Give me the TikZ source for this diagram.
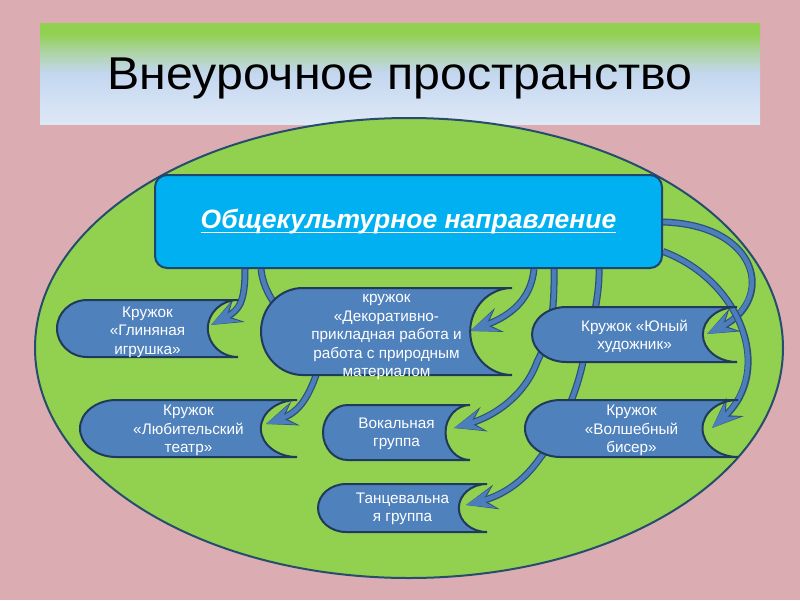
\documentclass[tikz,border=0pt]{standalone}
\usepackage{fontspec}
\setmainfont{Liberation Sans}
\newfontfamily\titlefont[FakeStretch=1.05]{Liberation Sans}
\usetikzlibrary{arrows.meta}
\pgfdeclarelayer{bg}
\pgfdeclarelayer{arrowlayer}
\pgfdeclarelayer{shapelayer}
\pgfsetlayers{bg,arrowlayer,shapelayer,main}

\definecolor{pinkbg}{RGB}{219,172,178}
\definecolor{elgreen}{RGB}{146,208,80}
\definecolor{eledge}{RGB}{38,78,108}
\definecolor{boxblue}{RGB}{79,129,189}
\definecolor{boxedge}{RGB}{32,58,90}
\definecolor{cyanbox}{RGB}{0,176,240}
\definecolor{hubedge}{RGB}{30,70,110}
\definecolor{arrowblue}{RGB}{76,126,188}
\definecolor{arrowedge}{RGB}{45,80,120}
\definecolor{bandgreen}{RGB}{146,208,80}
\definecolor{bandmix}{RGB}{175,212,170}
\definecolor{bandblue}{RGB}{196,215,240}
\definecolor{bandlight}{RGB}{222,232,246}

\pgfdeclareverticalshading{bandshade}{100bp}{color(0bp)=(bandlight); color(25bp)=(bandlight); color(50bp)=(bandblue); color(60bp)=(bandmix); color(70bp)=(bandgreen); color(100bp)=(bandgreen)}

\newcommand{\sdshape}[4]{%
  \pgfmathsetmacro\sdw{(#3-#1)/6}%
  \pgfmathsetmacro\sdh{(#4-#2)/2}%
  \path[sdstyle] (#1+\sdw,#2) -- (#3,#2)
    arc[start angle=90,end angle=270,x radius=\sdw pt,y radius=\sdh pt]
    -- (#1+\sdw,#4)
    arc[start angle=270,end angle=90,x radius=\sdw pt,y radius=\sdh pt]
    -- cycle;}
\newcommand{\thickul}[1]{\setbox0=\hbox{#1}\rlap{\rule[-5pt]{\wd0}{1.8pt}}\box0}

\tikzset{
  lbl/.style={text=white, font=\fontsize{15.3}{18.5}\selectfont, align=center, inner sep=0pt},
  sdstyle/.style={fill=boxblue, draw=boxedge, line width=2pt},
  conn/.style={draw=arrowblue, line width=4.5pt, -{Stealth[length=28pt,width=21pt,inset=11pt]},
    preaction={draw=arrowedge, line width=7pt, -{Stealth[length=31pt,width=25pt,inset=12pt]}}},
  hubstyle/.style={fill=cyanbox, draw=hubedge, line width=2pt, rounded corners=12pt,
    minimum width=507pt, minimum height=93pt, text=white,
    font=\fontsize{26.5}{30}\selectfont\bfseries\itshape},
}

\begin{document}
\begin{tikzpicture}[x=1pt,y=-1pt]
\useasboundingbox (0,0) rectangle (800,600);
\begin{pgfonlayer}{bg}
  \fill[pinkbg] (0,0) rectangle (800,600);
  \shade[shading=bandshade] (40,23) rectangle (760,124);
  \filldraw[fill=elgreen, draw=eledge, line width=2pt] (409,348) ellipse [x radius=374, y radius=230];
\end{pgfonlayer}

\node[font=\titlefont\fontsize{46}{50}\selectfont, text=black] (title) at (400,78) {Внеурочное пространство};

\node[hubstyle] (hub) at (408.5,221.5) {\thickul{Общекультурное направление}};

% boxes
\begin{pgfonlayer}{shapelayer}
  \sdshape{57}{300}{238}{357}
  \sdshape{261}{288}{512}{375}
  \sdshape{532}{307}{737}{362}
  \sdshape{80}{400}{297}{457}
  \sdshape{323}{405}{470}{460}
  \sdshape{525}{400}{738}{457}
  \sdshape{318}{484}{487}{532}
\end{pgfonlayer}

\node[lbl] (glin) at (147.5,332) {Кружок\\«Глиняная\\игрушка»};
\node[lbl] (deco) at (386.5,337) {кружок\\«Декоративно-\\прикладная работа и\\работа с природным\\материалом};
\node[lbl] (yun) at (634.5,336.5) {Кружок «Юный\\художник»};
\node[lbl] (lub) at (188.5,430.5) {Кружок\\«Любительский\\театр»};
\node[lbl] (vok) at (396.5,434) {Вокальная\\группа};
\node[lbl] (vol) at (631.5,430.5) {Кружок\\«Волшебный\\бисер»};
\node[lbl] (tan) at (402.5,509) {Танцевальна\\я группа};

\coordinate (glin-in) at (211,325);
\coordinate (deco-in) at (470,331);
\coordinate (yun-in) at (707,334);
\coordinate (lub-in) at (266,424);
\coordinate (vok-in) at (454,428);
\coordinate (vol-in) at (712,428);
\coordinate (tan-in) at (466,505);

\begin{pgfonlayer}{arrowlayer}
  \draw[conn] ([xshift=91pt]hub.south west) .. controls +(0,32) and (240,310) .. (glin-in);
  \draw[conn] ([xshift=107pt]hub.south west) .. controls (266,320) and (330,340) .. (315,378)
      .. controls (305,405) and (294,414) .. (lub-in);
  \draw[conn] ([xshift=380pt]hub.south west) .. controls (531,300) and (510,316) .. (deco-in);
  \draw[conn] ([xshift=400pt]hub.south west) .. controls (555,330) and (545,345) .. (537,362)
      .. controls (525,395) and (495,416) .. (vok-in);
  \draw[conn] ([xshift=445pt]hub.south west) .. controls (600,300) and (588,340) .. (583,362)
      .. controls (575,400) and (555,440) .. (540,458)
      .. controls (522,484) and (500,496) .. (tan-in);
  \draw[conn] ([yshift=-0.5pt]hub.east) .. controls (760,225) and (775,300) .. (yun-in);
  \draw[conn] ([yshift=-30pt]hub.east) .. controls (740,280) and (775,370) .. (vol-in);
\end{pgfonlayer}
\end{tikzpicture}
\end{document}
